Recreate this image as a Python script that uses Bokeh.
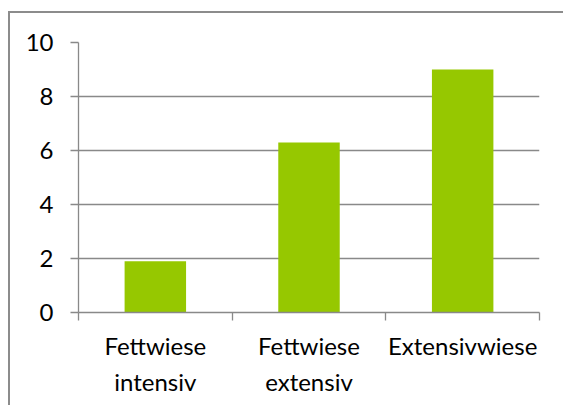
from bokeh.plotting import figure
from bokeh.models import FixedTicker, Range1d
from bokeh.embed import file_html
from bokeh.resources import INLINE
import numpy as np

categories = ["Fettwiese\nintensiv", "Fettwiese\nextensiv", "Extensivwiese"]
values = [1.9, 6.3, 9.0]
y_ticks = [0, 2, 4, 6, 8, 10]

FONT = "Lato"
GREY = "#898989"
FS = "24px"

n = len(categories)
centers = np.arange(n) + 0.5

p = figure(width=563, height=405, output_backend="svg", toolbar_location=None,
           x_range=Range1d(0, n), y_range=Range1d(0, 10),
           min_border_left=78, min_border_right=24, min_border_top=42, min_border_bottom=93)
p.outline_line_color = None
p.background_fill_color = "white"
p.border_fill_color = None
# outer chart border (left/top edges visible; right/bottom are outside the window)
p.styles = {"background": "white",
            "box-shadow": "inset 8px 11px 0 0 #ffffff, inset 10px 13px 0 0 #8c8c8c"}

p.vbar(x=centers, top=values, width=0.4, fill_color="#96C800", line_color=None)

# x axis
xa = p.xaxis[0]
xa.ticker = FixedTicker(ticks=list(centers), minor_ticks=list(range(n + 1)))
xa.major_label_overrides = {float(c): lab for c, lab in zip(centers, categories)}
xa.major_tick_out = 0
xa.major_tick_in = 0
xa.minor_tick_out = 8
xa.minor_tick_in = 0
xa.minor_tick_line_color = GREY
xa.minor_tick_line_width = 1.3
xa.axis_line_color = GREY
xa.axis_line_width = 1.3
xa.major_label_text_font = FONT
xa.major_label_text_font_size = FS
xa.major_label_text_color = "#000000"
xa.major_label_standoff = 10
xa.major_label_text_line_height = 1.25

# y axis
ya = p.yaxis[0]
ya.ticker = FixedTicker(ticks=y_ticks)
ya.major_tick_out = 8
ya.major_tick_in = 0
ya.minor_tick_line_color = None
ya.major_tick_line_color = GREY
ya.major_tick_line_width = 1.3
ya.axis_line_color = GREY
ya.axis_line_width = 1.3
ya.major_label_text_font = FONT
ya.major_label_text_font_size = FS
ya.major_label_text_color = "#000000"
ya.major_label_standoff = 17

p.xgrid.grid_line_color = None
p.ygrid.ticker = FixedTicker(ticks=y_ticks)
p.ygrid.grid_line_color = GREY
p.ygrid.grid_line_width = 1.3

open("out.html", "w").write(file_html(p, INLINE))
